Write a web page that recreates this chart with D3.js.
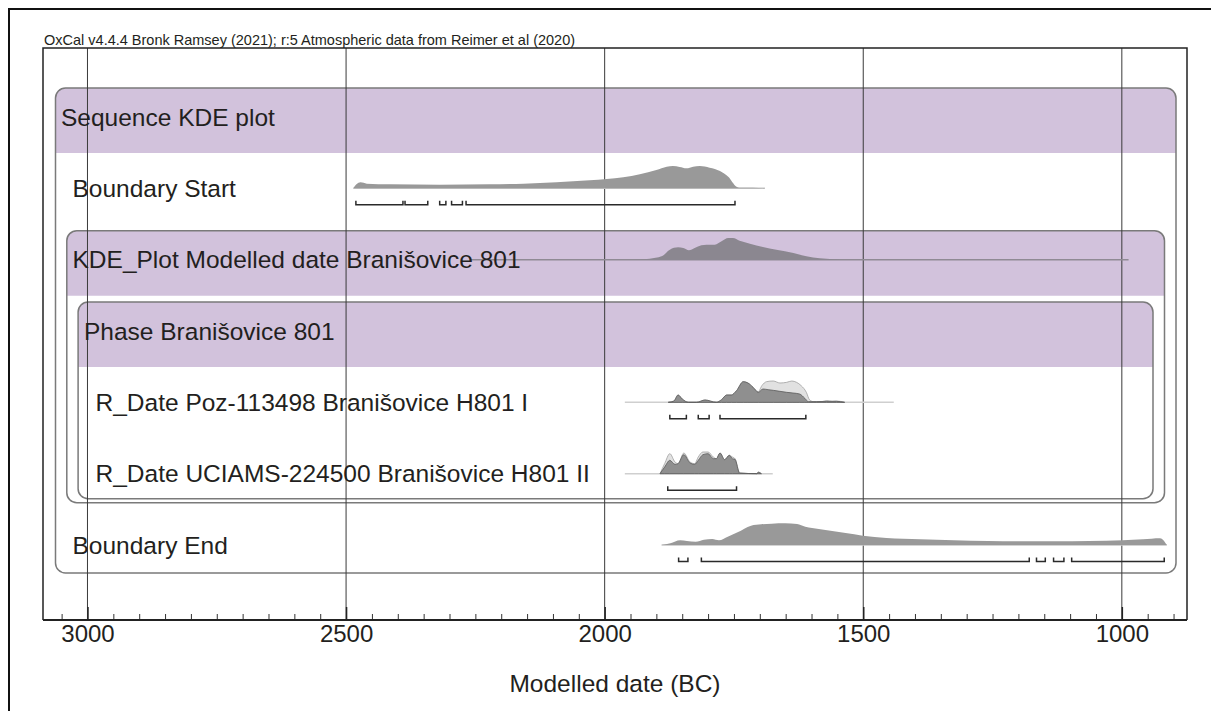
<!DOCTYPE html>
<html>
<head>
<meta charset="utf-8">
<script src="https://cdn.jsdelivr.net/npm/d3@7"></script>
<style>
  body { margin: 0; background: #fff; }
  svg { display: block; font-family: "Liberation Sans", Arial, sans-serif; }
  .label { fill: #231f20; font-size: 24.5px; }
  .tick text { fill: #231f20; font-size: 24px; font-family: "Liberation Sans", Arial, sans-serif; }
</style>
</head>
<body>
<svg id="chart" width="1211" height="711"></svg>
<script>
// rows of the OxCal plot, top to bottom, with nesting level
const rowNames = ['Sequence KDE plot', 'Boundary Start', 'KDE_Plot Modelled date Branišovice 801',
    'Phase Branišovice 801', 'R_Date Poz-113498 Branišovice H801 I',
    'R_Date UCIAMS-224500 Branišovice H801 II', 'Boundary End'];
const rowLevels = [0, 1, 1, 2, 3, 3, 1];

const majorYears = [3000, 2500, 2000, 1500, 1000];
const minorYears = d3.range(3050, 874, -50);

// [year BC, relative density]
const startPosterior = [[2486, 0], [2480, 12], [2472, 18], [2460, 14], [2415, 12], [2319, 11], [2222, 12],
    [2157, 14], [2093, 18], [2029, 24], [1996, 28], [1964, 33], [1932, 42], [1900, 55], [1880, 65],
    [1868, 67], [1855, 64], [1842, 60], [1829, 65], [1816, 67], [1797, 62], [1777, 52], [1761, 35],
    [1745, 5], [1739, 2], [1713, 2], [1690, 0]];
const startRange = [[2481, 2390], [2386, 2342], [2319, 2307], [2296, 2275], [2268, 1748]];
const startLine = [2486, 1690];

const kdePlot = [[1945, 0], [1913, 3], [1890, 10], [1874, 30], [1858, 37], [1848, 35], [1837, 28],
    [1826, 35], [1813, 43], [1803, 45], [1787, 45], [1774, 55], [1761, 65], [1752, 65], [1739, 57],
    [1719, 48], [1694, 38], [1668, 30], [1635, 20], [1610, 10], [1584, 4], [1545, 0]];
const kdeLine = [2260, 987];

const pozLikelihood = [[1877, 0], [1866, 4], [1858, 22], [1850, 10], [1838, 0], [1822, 0], [1806, 7],
    [1784, 0], [1774, 8], [1764, 22], [1755, 22], [1745, 35], [1732, 62], [1723, 58], [1713, 45],
    [1703, 32], [1696, 50], [1687, 62], [1674, 64], [1661, 58], [1648, 60], [1638, 64], [1629, 60],
    [1620, 50], [1610, 30], [1604, 8], [1596, 2], [1580, 2], [1571, 5], [1560, 3], [1552, 4], [1536, 0]];
const pozPosterior = [[1877, 0], [1866, 4], [1858, 22], [1850, 10], [1838, 0], [1822, 0], [1806, 7],
    [1784, 0], [1774, 8], [1764, 22], [1755, 22], [1745, 35], [1732, 62], [1723, 58], [1713, 45],
    [1703, 30], [1694, 40], [1684, 38], [1674, 36], [1661, 33], [1648, 30], [1636, 28], [1623, 25],
    [1613, 12], [1606, 2], [1590, 2], [1571, 3], [1552, 3], [1536, 0]];
const pozRange = [[1874, 1842], [1819, 1798], [1777, 1611]];
const pozLine = [1961, 1441];

const uciLikelihood = [[1893, 0], [1884, 30], [1874, 60], [1864, 35], [1858, 30], [1847, 62], [1835, 35],
    [1826, 30], [1819, 50], [1810, 65], [1800, 65], [1790, 50], [1784, 45], [1777, 62], [1768, 42],
    [1759, 55], [1753, 50], [1748, 45], [1739, 2], [1706, 0], [1703, 5], [1697, 0]];
const uciPosterior = [[1893, 0], [1884, 20], [1874, 40], [1864, 28], [1858, 30], [1847, 57], [1835, 32],
    [1826, 28], [1819, 40], [1810, 57], [1800, 60], [1790, 45], [1784, 45], [1777, 62], [1768, 42],
    [1759, 55], [1753, 45], [1748, 43], [1739, 2], [1706, 0], [1703, 4], [1697, 0]];
const uciRange = [[1878, 1745]];
const uciLine = [1961, 1675];

const endPosterior = [[1890, 0], [1873, 5], [1854, 14], [1841, 12], [1824, 10], [1808, 16], [1792, 18],
    [1779, 14], [1762, 25], [1743, 38], [1717, 58], [1697, 62], [1677, 64], [1651, 65], [1628, 63],
    [1612, 55], [1586, 48], [1560, 42], [1534, 36], [1501, 28], [1455, 21], [1390, 17], [1325, 14],
    [1259, 12], [1194, 11], [1129, 11], [1063, 12], [998, 14], [959, 17], [926, 20], [913, 0]];
const endRange = [[1857, 1839], [1813, 1179], [1165, 1148], [1132, 1112], [1097, 918]];
const endLine = [1890, 913];

const svg = d3.select('#chart');
const frame = { left: 43, right: 1187, top: 48, bottom: 620 };

const x = d3.scaleLinear().domain([3086, 874]).range([frame.left, frame.right]);
const dens = d3.scaleLinear().domain([0, 66]).range([0, 22]);
const rowY = d3.scalePoint().domain(rowNames).range([117, 545]);

// outer picture border (left and top only)
svg.append('path')
    .attr('d', 'M9,711 V9 H1211')
    .attr('fill', 'none')
    .attr('stroke', '#111')
    .attr('stroke-width', 2);

svg.append('text')
    .attr('x', 44)
    .attr('y', 45)
    .attr('fill', '#231f20')
    .style('font-size', '14.5px')
    .text('OxCal v4.4.4 Bronk Ramsey (2021); r:5 Atmospheric data from Reimer et al (2020)');

// nested group boxes: [header row, last row inside]
const groups = [[0, 6], [2, 5], [3, 5]];
const boxBottomPad = [28, 29, 25];
const purple = '#d2c2dc';

groups.forEach(([first, last], i) => {
    const lvl = rowLevels[first];
    const x0 = 55.5 + lvl * 11.3, x1 = 1176 - lvl * 11.5;
    const top = rowY(rowNames[first]) - 29;
    const hb = rowY(rowNames[first]) + 36;
    const bottom = rowY(rowNames[last]) + boxBottomPad[i];
    const r = 10;
    svg.append('rect')
        .attr('x', x0).attr('y', top)
        .attr('width', x1 - x0).attr('height', bottom - top)
        .attr('rx', r)
        .attr('fill', '#fff');
    svg.append('path')
        .attr('d', `M${x0},${hb} V${top + r} Q${x0},${top} ${x0 + r},${top} H${x1 - r} Q${x1},${top} ${x1},${top + r} V${hb} Z`)
        .attr('fill', purple);
    svg.append('rect')
        .attr('x', x0).attr('y', top)
        .attr('width', x1 - x0).attr('height', bottom - top)
        .attr('rx', r)
        .attr('fill', 'none')
        .attr('stroke', '#7a7a7a')
        .attr('stroke-width', 1.5);
});

// grid lines at the labelled years
svg.append('g')
    .selectAll('line')
    .data(majorYears)
    .enter()
    .append('line')
    .attr('x1', d => x(d)).attr('x2', d => x(d))
    .attr('y1', frame.top).attr('y2', frame.bottom)
    .attr('stroke', '#3a3a3a')
    .attr('stroke-width', 1);

const area = base => d3.area()
    .x(d => x(d[0]))
    .y0(base)
    .y1(d => base - dens(d[1]))
    .curve(d3.curveMonotoneX);

function baseLine(row, ext, color) {
    const b = rowY(row);
    svg.append('line')
        .attr('x1', x(ext[0])).attr('x2', x(ext[1]))
        .attr('y1', b).attr('y2', b)
        .attr('stroke', color)
        .attr('stroke-width', 1.5);
}

function dist(row, data, fill, stroke) {
    svg.append('path')
        .datum(data)
        .attr('d', area(rowY(row)))
        .attr('fill', fill)
        .attr('stroke', stroke || 'none')
        .attr('stroke-width', 0.8);
}

function ranges(row, data) {
    const y = rowY(row) + 16.5;
    svg.append('g')
        .selectAll('path')
        .data(data)
        .enter()
        .append('path')
        .attr('d', d => `M${x(d[0])},${y - 4} V${y} H${x(d[1])} V${y - 4}`)
        .attr('fill', 'none')
        .attr('stroke', '#2a2a2a')
        .attr('stroke-width', 1.5);
}

baseLine(rowNames[1], startLine, '#c4c4c4');
dist(rowNames[1], startPosterior, '#999999');
ranges(rowNames[1], startRange);

baseLine(rowNames[2], kdeLine, '#8f8a94');
dist(rowNames[2], kdePlot, '#8b8790');

baseLine(rowNames[4], pozLine, '#cfcfcf');
dist(rowNames[4], pozLikelihood, '#e1e1e1', '#a0a0a0');
dist(rowNames[4], pozPosterior, '#8f8f8f', '#5a5a5a');
ranges(rowNames[4], pozRange);

baseLine(rowNames[5], uciLine, '#cfcfcf');
dist(rowNames[5], uciLikelihood, '#e1e1e1', '#a0a0a0');
dist(rowNames[5], uciPosterior, '#8f8f8f', '#5a5a5a');
ranges(rowNames[5], uciRange);

baseLine(rowNames[6], endLine, '#c4c4c4');
dist(rowNames[6], endPosterior, '#999999');
ranges(rowNames[6], endRange);

// row labels
svg.append('g')
    .selectAll('text')
    .data(rowNames)
    .enter()
    .append('text')
    .attr('class', 'label')
    .attr('x', (d, i) => 61 + rowLevels[i] * 11.5)
    .attr('y', d => rowY(d) + 8.8)
    .text(d => d);

// plot frame
svg.append('path')
    .attr('d', `M${frame.left},${frame.bottom} V${frame.top} H${frame.right} V${frame.bottom}`)
    .attr('fill', 'none')
    .attr('stroke', '#222')
    .attr('stroke-width', 1.5);

// axis: minor ticks, then labelled major ticks
svg.append('g')
    .attr('transform', `translate(0,${frame.bottom})`)
    .call(d3.axisBottom(x).tickValues(minorYears.filter(d => !majorYears.includes(d))).tickSize(-6).tickFormat(''))
    .call(g => g.select('.domain').remove())
    .call(g => g.selectAll('line').attr('stroke', '#333'));

svg.append('g')
    .attr('transform', `translate(0,${frame.bottom})`)
    .call(d3.axisBottom(x).tickValues(majorYears).tickSize(-13).tickPadding(5).tickFormat(d3.format('d')))
    .call(g => g.select('.domain').attr('d', `M${frame.left},0H${frame.right}`).attr('stroke', '#222').attr('stroke-width', 2))
    .call(g => g.selectAll('line').attr('stroke', '#222').attr('stroke-width', 1.5));

svg.append('text')
    .attr('class', 'label')
    .attr('x', (frame.left + frame.right) / 2)
    .attr('y', 692)
    .attr('text-anchor', 'middle')
    .text('Modelled date (BC)');
</script>
</body>
</html>
